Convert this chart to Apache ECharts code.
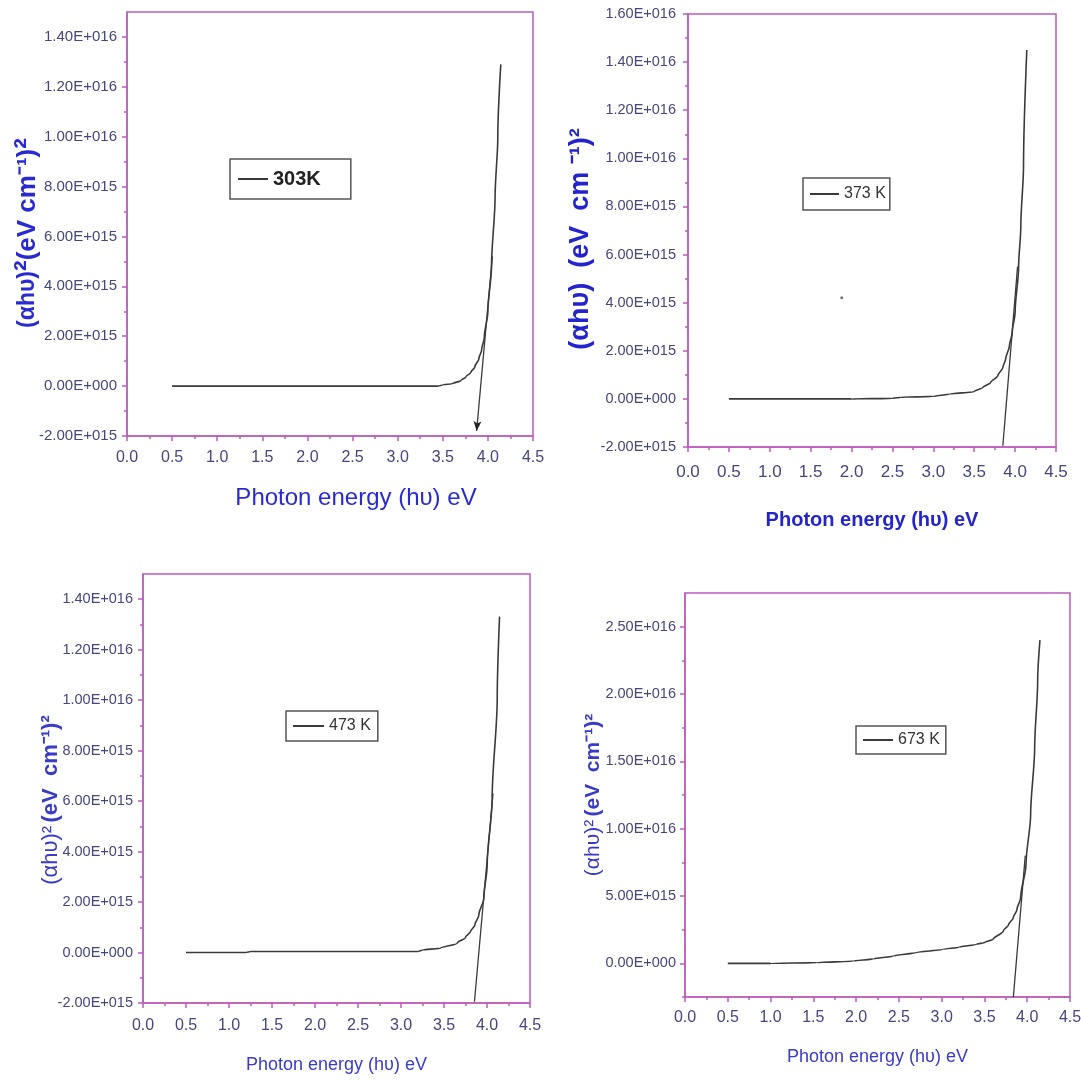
<!DOCTYPE html>
<html lang="en">
<head>
	<meta charset="utf-8">
	<title>Tauc plots</title>
	<script src="https://cdn.jsdelivr.net/npm/echarts@6/dist/echarts.min.js"></script>
	<style type="text/css">
		html, body {margin:0;padding:0;background:#ffffff}
		#chart {width:1081px;height:1080px}
	</style>
</head>
<body>
	<div id="chart"></div>
	<script>
		<!--data, y values in units of 1E+015-->
		var x303 = [0.5, 1.0, 1.5, 2.0, 2.5, 3.0, 3.45, 3.5, 3.61, 3.7, 3.755, 3.81, 3.855, 3.9, 3.93, 3.96, 4.0, 4.04, 4.08, 4.11, 4.143];
		var y303 = [0, 0, 0, 0, 0, 0, 0, 0.05, 0.1, 0.22, 0.37, 0.55, 0.77, 1.1, 1.44, 1.95, 3.0, 4.8, 7.6, 10.0, 12.9];
		var fit303x = [4.05, 3.875];
		var fit303y = [5.2, -1.8];

		var x373 = [0.5, 1.0, 1.5, 2.0, 2.5, 2.6, 3.0, 3.2, 3.5, 3.607, 3.7, 3.79, 3.85, 3.884, 3.93, 3.965, 4.0, 4.043, 4.07, 4.103, 4.143];
		var y373 = [0, 0, 0, 0, 0.02, 0.07, 0.1, 0.2, 0.3, 0.48, 0.68, 0.97, 1.3, 1.66, 2.2, 2.76, 3.6, 5.5, 7.2, 9.7, 14.5];
		var fit373x = [4.03, 3.85];
		var fit373y = [5.5, -1.95];
		var stray373 = [[1.88, 4.2]];

		var x473 = [0.5, 1.2, 1.25, 3.2, 3.25, 3.458, 3.653, 3.75, 3.808, 3.86, 3.905, 3.963, 4.002, 4.06, 4.119, 4.146];
		var y473 = [0, 0, 0.04, 0.04, 0.1, 0.17, 0.37, 0.6, 0.83, 1.1, 1.49, 2.15, 3.47, 6.12, 10.08, 13.31];
		var fit473x = [4.07, 3.854];
		var fit473y = [6.3, -1.95];

		var x673 = [0.5, 1.0, 1.54, 1.97, 2.2, 2.435, 2.7, 3.02, 3.2, 3.41, 3.5, 3.6, 3.72, 3.78, 3.837, 3.88, 3.923, 3.986, 4.04, 4.087, 4.122, 4.149];
		var y673 = [0, 0, 0.05, 0.17, 0.33, 0.54, 0.8, 1.04, 1.2, 1.41, 1.55, 1.78, 2.4, 2.85, 3.39, 4.0, 4.87, 7.36, 11.07, 16.0, 20.97, 24.0];
		var fit673x = [3.977, 3.838];
		var fit673y = [8.0, -2.5];

		<!--tick values-->
		var xMajor = [0, 0.5, 1.0, 1.5, 2.0, 2.5, 3.0, 3.5, 4.0, 4.5];
		var xMinor = [0.25, 0.75, 1.25, 1.75, 2.25, 2.75, 3.25, 3.75, 4.25];
		var yMajor14 = [-2, 0, 2, 4, 6, 8, 10, 12, 14];
		var yMinor14 = [-1, 1, 3, 5, 7, 9, 11, 13];
		var yMajor16 = [-2, 0, 2, 4, 6, 8, 10, 12, 14, 16];
		var yMinor16 = [-1, 1, 3, 5, 7, 9, 11, 13, 15];
		var yMajor25 = [0, 5, 10, 15, 20, 25];
		var yMinor25 = [-2.5, 2.5, 7.5, 12.5, 17.5, 22.5];

		var legendNames = ['303K', '373 K', '473 K', '673 K'];

		var ARIAL = '"Liberation Sans", Arial, sans-serif';
		var FRAME = '#bd5cc0';
		var LABEL = '#45457f';
		var LINE = '#3a3a3a';

		function pairs(xs, ys) {
			var out = [];
			for (var i = 0; i < xs.length; i++) out.push([xs[i], ys[i]]);
			return out;
		}

		<!--1.40E+016 style labels-->
		function sci(v) {
			var n = Math.round(v * 1000) / 1000 * 1e15;
			if (n === 0) return '0.00E+000';
			var e = Math.floor(Math.log10(Math.abs(n)) + 1e-9);
			var m = n / Math.pow(10, e);
			return m.toFixed(2) + 'E+' + String(e).padStart(3, '0');
		}

		<!--panel layout-->
		var panels = [
			{grid: {left: 127, top: 12, width: 406, height: 424}, ymin: -2, ymax: 15, yMajor: yMajor14, yMinor: yMinor14,
			 ylabSize: 15, ylabMargin: 10, xlabSize: 16, xlabMargin: 14,
			 xname: 'Photon energy (hυ) eV', xnameStyle: {fontFamily: ARIAL, fontSize: 24, color: '#2a2ad2', padding: [0, 0, 0, 52]}, xnameGap: 50,
			 yname: '{n|(αhυ)}{s|²}{b|(eV cm⁻¹)}{s|²}', ynameGap: 83,
			 ynameStyle: {padding: [0, 18, 0, 0], rich: {
				n: {fontFamily: ARIAL, fontSize: 23, fontWeight: 'bold', color: '#2a2ad2'},
				b: {fontFamily: ARIAL, fontSize: 26, fontWeight: 'bold', color: '#2a2ad2'},
				s: {fontFamily: ARIAL, fontSize: 32, fontWeight: 'bold', color: '#2a2ad2'}}},
			 legend: {left: 230, top: 159, padding: [10, 30, 10, 8], itemWidth: 30,
				textStyle: {fontFamily: ARIAL, fontSize: 20, fontWeight: 'bold', color: '#222'}}},
			{grid: {left: 688, top: 14, width: 368, height: 433}, ymin: -2, ymax: 16, yMajor: yMajor16, yMinor: yMinor16,
			 ylabSize: 14.5, ylabMargin: 12, xlabSize: 17, xlabMargin: 17,
			 xname: 'Photon energy (hυ) eV', xnameStyle: {fontFamily: ARIAL, fontSize: 20, fontWeight: 'bold', color: '#2424cc'}, xnameGap: 63,
			 yname: '(αhυ)  (eV  cm ⁻¹)²', ynameGap: 94,
			 ynameStyle: {fontFamily: ARIAL, fontSize: 27, fontWeight: 'bold', color: '#2424cc', padding: [0, 17, 0, 0]},
			 legend: {left: 803, top: 178, padding: [8, 4, 8, 7], itemWidth: 29,
				textStyle: {fontFamily: ARIAL, fontSize: 16, color: '#333'}}},
			{grid: {left: 143, top: 574, width: 387, height: 429}, ymin: -2, ymax: 15, yMajor: yMajor14, yMinor: yMinor14,
			 ylabSize: 14.5, ylabMargin: 10, xlabSize: 16, xlabMargin: 15,
			 xname: 'Photon energy (hυ) eV', xnameStyle: {fontFamily: ARIAL, fontSize: 18, color: '#3a3ac8'}, xnameGap: 53,
			 yname: '{n|(αhυ)²} {b|(eV  cm⁻¹)²}', ynameGap: 81,
			 ynameStyle: {padding: [0, 23, 0, 0], rich: {
				n: {fontFamily: ARIAL, fontSize: 22, color: '#3a3ac8'},
				b: {fontFamily: ARIAL, fontSize: 22, fontWeight: 'bold', color: '#3a3ac8'}}},
			 legend: {left: 286, top: 711, padding: [7, 7, 7, 7], itemWidth: 31,
				textStyle: {fontFamily: ARIAL, fontSize: 16, color: '#333'}}},
			{grid: {left: 685, top: 593, width: 385, height: 404}, ymin: -2.5, ymax: 27.5, yMajor: yMajor25, yMinor: yMinor25,
			 ylabSize: 14.5, ylabMargin: 9, xlabSize: 16, xlabMargin: 13,
			 xname: 'Photon energy (hυ) eV', xnameStyle: {fontFamily: ARIAL, fontSize: 18, color: '#3a3ac8'}, xnameGap: 51,
			 yname: '{n|(αhυ)²} {b|(eV  cm⁻¹)²}', ynameGap: 81,
			 ynameStyle: {rich: {
				n: {fontFamily: ARIAL, fontSize: 21, color: '#3a3ac8'},
				b: {fontFamily: ARIAL, fontSize: 21, fontWeight: 'bold', color: '#3a3ac8'}}},
			 legend: {left: 856, top: 726, padding: [6, 6, 6, 7], itemWidth: 30,
				textStyle: {fontFamily: ARIAL, fontSize: 16, color: '#333'}}}
		];

		var curves = [pairs(x303, y303), pairs(x373, y373), pairs(x473, y473), pairs(x673, y673)];
		var fits = [pairs(fit303x, fit303y), pairs(fit373x, fit373y), pairs(fit473x, fit473y), pairs(fit673x, fit673y)];

		var grid = [], xAxis = [], yAxis = [], series = [], legend = [];

		panels.forEach(function (p, i) {
			grid.push(Object.assign({show: true, borderColor: FRAME, borderWidth: 1.5, backgroundColor: 'transparent',
				containLabel: false, outerBoundsMode: 'none'}, p.grid));

			xAxis.push({
				type: 'value', gridIndex: i, position: 'bottom', min: 0, max: 4.5,
				axisLine: {onZero: false, lineStyle: {color: FRAME, width: 1.5}},
				axisTick: {customValues: xMajor, length: 5, lineStyle: {color: FRAME, width: 1.5}},
				axisLabel: {customValues: xMajor, margin: p.xlabMargin, fontFamily: ARIAL, fontSize: p.xlabSize, color: LABEL,
					formatter: function (v) { return v.toFixed(1); }},
				splitLine: {show: false},
				name: p.xname, nameLocation: 'middle', nameGap: p.xnameGap, nameMoveOverlap: false, nameTextStyle: p.xnameStyle
			});
			xAxis.push({
				type: 'value', gridIndex: i, position: 'bottom', min: 0, max: 4.5,
				axisLine: {show: false, onZero: false},
				axisTick: {customValues: xMinor, length: 3, lineStyle: {color: FRAME, width: 1.5}},
				axisLabel: {show: false}, splitLine: {show: false}
			});

			yAxis.push({
				type: 'value', gridIndex: i, position: 'left', min: p.ymin, max: p.ymax,
				axisLine: {show: true, onZero: false, lineStyle: {color: FRAME, width: 1.5}},
				axisTick: {customValues: p.yMajor, length: 5, lineStyle: {color: FRAME, width: 1.5}},
				axisLabel: {customValues: p.yMajor, margin: p.ylabMargin, fontFamily: ARIAL, fontSize: p.ylabSize, color: LABEL, formatter: sci},
				splitLine: {show: false},
				name: p.yname, nameLocation: 'middle', nameRotate: 90, nameGap: p.ynameGap, nameMoveOverlap: false, nameTextStyle: p.ynameStyle
			});
			yAxis.push({
				type: 'value', gridIndex: i, position: 'left', min: p.ymin, max: p.ymax,
				axisLine: {show: false, onZero: false},
				axisTick: {customValues: p.yMinor, length: 3, lineStyle: {color: FRAME, width: 1.5}},
				axisLabel: {show: false}, splitLine: {show: false}
			});

			series.push({
				name: legendNames[i], type: 'line', xAxisIndex: 2 * i, yAxisIndex: 2 * i,
				data: curves[i], symbol: 'none', smooth: 0.3, smoothMonotone: 'y',
				lineStyle: {color: LINE, width: 1.6}, itemStyle: {color: LINE}
			});

			var fitData = fits[i].slice();
			if (i === 0) {
				<!--303K fit line ends with an arrow head-->
				fitData[1] = {value: fitData[1], symbol: 'arrow', symbolSize: [6, 10], symbolRotate: 175};
			}
			series.push({
				name: 'fit ' + legendNames[i], type: 'line', xAxisIndex: 2 * i, yAxisIndex: 2 * i,
				data: fitData, symbol: 'none', showSymbol: i === 0,
				lineStyle: {color: LINE, width: 1.3}, itemStyle: {color: '#222'}
			});

			legend.push(Object.assign({
				data: [legendNames[i]], orient: 'horizontal', borderColor: '#555', borderWidth: 1.5,
				icon: 'rect', itemHeight: 2, selectedMode: false
			}, p.legend));
		});

		<!--small stray mark inside the 373 K panel-->
		series.push({
			name: 'mark', type: 'scatter', xAxisIndex: 2, yAxisIndex: 2,
			data: stray373, symbol: 'circle', symbolSize: 3, itemStyle: {color: '#555'}
		});

		var myChart = echarts.init(document.getElementById('chart'), null, {renderer: 'canvas'});
		myChart.setOption({
			animation: false,
			backgroundColor: '#ffffff',
			grid: grid,
			xAxis: xAxis,
			yAxis: yAxis,
			legend: legend,
			series: series
		});
	</script>
</body>
</html>
